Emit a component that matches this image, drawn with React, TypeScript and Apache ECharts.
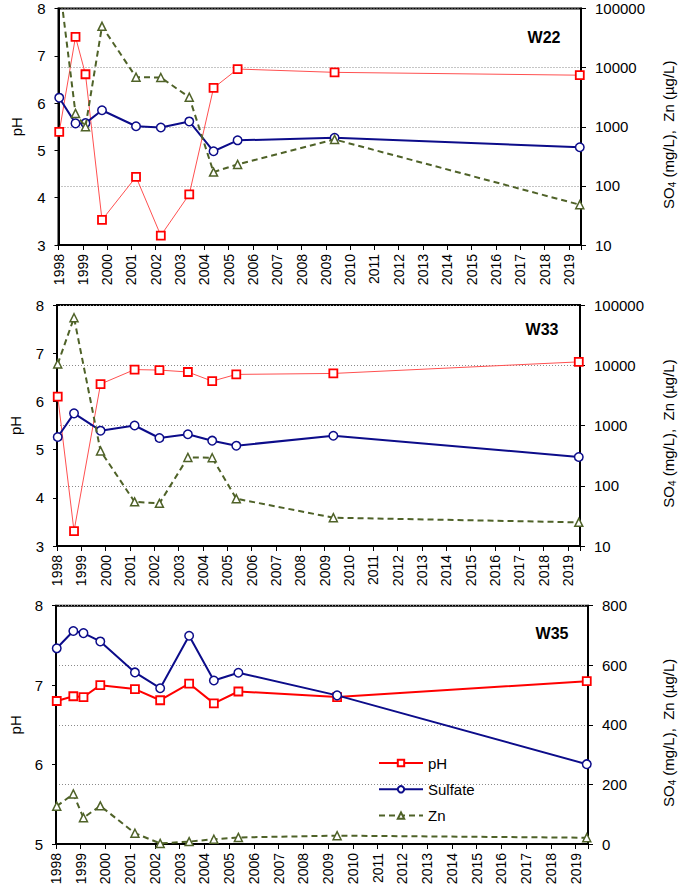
import React, { useEffect, useRef } from 'react';
import * as echarts from 'echarts';

// Sampling dates (decimal years)
const dates11 = [1998.03, 1998.7, 1999.11, 1999.79, 2001.19, 2002.21, 2003.38, 2004.38, 2005.37, 2009.36, 2019.45];
const dates10 = [1998.03, 1998.7, 1999.79, 2001.19, 2002.21, 2003.38, 2004.38, 2005.37, 2009.36, 2019.45];

// W22
const w22pH = [5.39, 7.4, 6.61, 3.53, 4.44, 3.2, 4.07, 6.32, 6.72, 6.65, 6.59];
const w22SO4 = [3100, 1140, 1150, 1900, 1020, 970, 1230, 385, 590, 650, 450];
const w22Zn = [280000, 1680, 1000, 50000, 6900, 6800, 3160, 171, 231, 610, 48];

// W33
const w33pH = [6.1, 3.31, 6.36, 6.66, 6.65, 6.61, 6.42, 6.56, 6.58, 6.82];
const w33SO4 = [645, 1590, 820, 1000, 620, 715, 560, 462, 677, 300];
const w33Zn = [10500, 61500, 378, 54, 51, 295, 292, 61, 29.5, 24.7];

// W35
const w35pH = [6.8, 6.86, 6.85, 7.0, 6.95, 6.81, 7.02, 6.77, 6.92, 6.85, 7.05];
const w35SO4 = [657, 715, 708, 680, 576, 523, 699, 549, 575, 499, 268];
const w35Zn = [127, 168, 88, 128, 36, 2, 8, 16, 22, 28, 21];

const panelTitles = ['W22', 'W33', 'W35'];
const seriesNames = ['pH', 'Sulfate', 'Zn'];

const FONT = 'Liberation Sans, Arial, Helvetica, sans-serif';
const RED = '#ff0000';
const BLUE = '#0c0c8a';
const GREEN = '#4f6228';

const zip = (xs: number[], ys: number[]) => xs.map((x, i) => [x, ys[i]]);

function makeSeries(gi: number, dates: number[], ph: number[], so4: number[], zn: number[], phWidth: number, phColor: string) {
  return [
    {
      name: seriesNames[0], type: 'line', xAxisIndex: gi, yAxisIndex: gi * 2,
      data: zip(dates, ph), symbol: 'rect', symbolSize: 8,
      lineStyle: { color: phColor, width: phWidth },
      itemStyle: { color: '#ffffff', borderColor: RED, borderWidth: 1.8 },
      z: 3,
    },
    {
      name: seriesNames[1], type: 'line', xAxisIndex: gi, yAxisIndex: gi * 2 + 1,
      data: zip(dates, so4), symbol: 'circle', symbolSize: 8.5,
      lineStyle: { color: BLUE, width: 2 },
      itemStyle: { color: '#ffffff', borderColor: BLUE, borderWidth: 1.5 },
      z: 4,
    },
    {
      name: seriesNames[2], type: 'line', xAxisIndex: gi, yAxisIndex: gi * 2 + 1,
      data: zip(dates, zn), symbol: 'triangle', symbolSize: 8,
      lineStyle: { color: GREEN, width: 2, type: [6, 4] },
      itemStyle: { color: '#ffffff', borderColor: GREEN, borderWidth: 1.5 },
      z: 5,
    },
  ];
}

const grids = [
  { left: 58.5, top: 8.5, width: 528.2, height: 236.5 },
  { left: 55.7, top: 305, width: 533.3, height: 241 },
  { left: 51.5, top: 605.7, width: 539.5, height: 238.3 },
];

export default function App() {
  const ref = useRef<HTMLDivElement>(null);
  useEffect(() => {
    if (!ref.current) return;
    const chart = echarts.init(ref.current, null, { renderer: 'svg' });

    const xAxes = grids.map((_, i) => ({
      type: 'value', gridIndex: i, min: 1998, max: 2019.5, interval: 1,
      axisLine: { onZero: false, lineStyle: { color: '#000', width: 2 } },
      axisTick: { length: 5, lineStyle: { color: '#000', width: 1 } },
      axisLabel: {
        rotate: 90, margin: 9, fontSize: 14, color: '#000', fontFamily: FONT,
        formatter: (v: number) => (Number.isInteger(v) ? String(v) : ''),
      },
      splitLine: { show: false },
    }));

    const leftMins = [3, 3, 5];
    const nameGapsLeft = [35, 34, 33];
    const nameGapsRight = [78, 79, 71];
    const yAxes: any[] = [];
    grids.forEach((_, i) => {
      yAxes.push({
        type: 'value', gridIndex: i, position: 'left', min: leftMins[i], max: 8, interval: 1,
        name: 'pH', nameLocation: 'middle', nameRotate: 90, nameGap: nameGapsLeft[i],
        nameTextStyle: { fontSize: 15, color: '#000', fontFamily: FONT },
        axisLine: { show: true, onZero: false, lineStyle: { color: '#000', width: 2 } },
        axisTick: { show: true, length: 4, lineStyle: { color: '#000' } },
        axisLabel: { margin: 13, fontSize: 15, color: '#000', fontFamily: FONT },
        splitLine: { show: false },
      });
      const right: any = {
        gridIndex: i, position: 'right',
        name: '{n|SO}{s|4}{n| (mg/L),  Zn (µg/L)}', nameLocation: 'middle', nameRotate: 90,
        nameGap: nameGapsRight[i],
        nameTextStyle: {
          color: '#000', fontFamily: FONT, fontSize: 15, padding: [0, 16, 0, 0],
          rich: {
            n: { fontSize: 15, color: '#000', fontFamily: FONT, lineHeight: 18 },
            s: { fontSize: 10, color: '#000', fontFamily: FONT, lineHeight: 10, verticalAlign: 'bottom' },
          },
        },
        axisLine: { show: true, onZero: false, lineStyle: { color: '#000', width: 2 } },
        axisTick: { show: true, length: 5, lineStyle: { color: '#000' } },
        axisLabel: {
          margin: 14, fontSize: 15, color: '#000', fontFamily: FONT,
          formatter: (v: number) => String(Math.round(v)),
        },
        splitLine: { show: true, lineStyle: { color: '#8a8a8a', type: [1, 2], width: 1 } },
      };
      if (i < 2) {
        Object.assign(right, { type: 'log', logBase: 10, min: 10, max: 100000 });
      } else {
        Object.assign(right, { type: 'value', min: 0, max: 800, interval: 200 });
      }
      yAxes.push(right);
    });

    const series = [
      ...makeSeries(2, dates11, w35pH, w35SO4, w35Zn, 2, RED),
      ...makeSeries(0, dates11, w22pH, w22SO4, w22Zn, 1, '#ff5050'),
      ...makeSeries(1, dates10, w33pH, w33SO4, w33Zn, 1, '#ff5050'),
    ];

    const titlePos = [[544, 37], [542, 329], [552, 633]];

    chart.setOption({
      animation: false,
      backgroundColor: '#ffffff',
      textStyle: { fontFamily: FONT },
      grid: grids.map((g) => ({ ...g, show: true, borderColor: '#000', borderWidth: 2, backgroundColor: 'transparent' })),
      xAxis: xAxes,
      yAxis: yAxes,
      legend: {
        data: seriesNames, orient: 'vertical', left: 373, top: 750,
        itemWidth: 44, itemHeight: 8, itemGap: 10.3,
        textStyle: { fontSize: 15, color: '#000', fontFamily: FONT, lineHeight: 16 },
        selectedMode: false,
      },
      graphic: panelTitles.map((t, i) => ({
        type: 'text', x: titlePos[i][0], y: titlePos[i][1], z: 10,
        style: {
          text: t, fill: '#000', fontSize: 16, fontWeight: 'bold', fontFamily: FONT,
          align: 'center', verticalAlign: 'middle',
        },
      })),
      series,
    });
    return () => chart.dispose();
  }, []);
  return <div ref={ref} style={{ position: 'absolute', left: 0, top: 0, width: 685, height: 888 }} />;
}
